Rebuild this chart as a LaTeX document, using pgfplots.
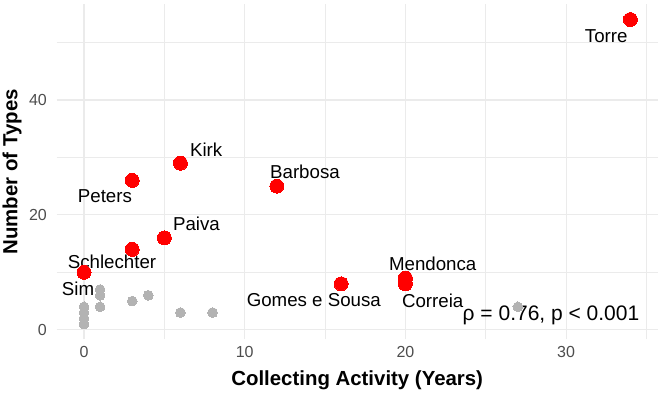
\documentclass[border=0pt]{standalone}
\usepackage{fontspec}
\setmainfont{Liberation Sans}
\usepackage{pgfplots}
\pgfplotsset{compat=1.18}
\definecolor{gridc}{HTML}{EBEBEB}
\definecolor{tickc}{HTML}{4D4D4D}
\definecolor{ptgray}{HTML}{B3B3B3}
\definecolor{ptred}{HTML}{FF0000}
\begin{document}
\begin{tikzpicture}
\useasboundingbox (-56.7pt,-54.5pt) rectangle (607.3pt,339.3pt);
\begin{axis}[
 scale only axis, width=601pt, height=335pt,
 xmin=-1.7, xmax=35.7, ymin=-1.65, ymax=56.65,
 axis line style={draw=none},
 major tick length=0pt, minor tick length=0pt,
 xtick={0,10,20,30}, ytick={0,20,40},
 minor xtick={5,15,25,35}, minor ytick={10,30,50},
 grid=both,
 major grid style={gridc, line width=1.1pt},
 minor grid style={gridc, line width=0.55pt},
 /pgf/number format/assume math mode=true,
 ticklabel style={font=\fontsize{16}{16}\selectfont, text=tickc},
 xticklabel style={anchor=center, yshift=-12.5pt, inner sep=0pt},
 yticklabel style={anchor=east, xshift=-9.7pt, inner sep=0pt},
 xlabel={Collecting Activity (Years)}, ylabel={Number of Types},
 label style={font=\bfseries\fontsize{20.4}{20}\selectfont},
 xlabel style={at={(axis description cs:0.5,-0.1209)}, anchor=center},
 ylabel style={at={(axis description cs:-0.0744,0.5)}, anchor=center},
 clip=false
]
\addplot[only marks, mark=*, mark size=4.9pt, color=ptgray, mark options={draw=ptgray, fill=ptgray, line width=0pt}] coordinates {
(0,1) (0,2) (0,3) (0,4) (1,4) (1,6) (1,7) (3,5) (4,6) (6,3) (8,3) (27,4)
};
\addplot[only marks, mark=*, mark size=7pt, color=ptred, mark options={draw=ptred, fill=ptred, line width=0pt}] coordinates {
(0,10) (3,14) (5,16) (3,26) (6,29) (12,25) (16,8) (20,9) (20,8) (34,54)
};
\begin{scope}[every node/.style={font=\fontsize{18.7}{19}\selectfont, inner sep=0pt, anchor=center}]
\node at (axis cs:32.5,51.1) {Torre};
\node at (axis cs:7.6,31.3) {Kirk};
\node at (axis cs:1.3,23.3) {Peters};
\node at (axis cs:13.75,27.5) {Barbosa};
\node at (axis cs:7.0,18.4) {Paiva};
\node at (axis cs:1.74,11.8) {Schlechter};
\node at (axis cs:-0.37,7.1) {Sim};
\node at (axis cs:21.7,11.5) {Mendonca};
\node at (axis cs:14.3,5.2) {Gomes e Sousa};
\node at (axis cs:21.7,5.0) {Correia};
\end{scope}
\node[font=\fontsize{21}{21}\selectfont, inner sep=0pt, anchor=center] at (axis cs:29.06,2.6) {ρ = 0.76, p < 0.001};
\end{axis}
\end{tikzpicture}
\end{document}
